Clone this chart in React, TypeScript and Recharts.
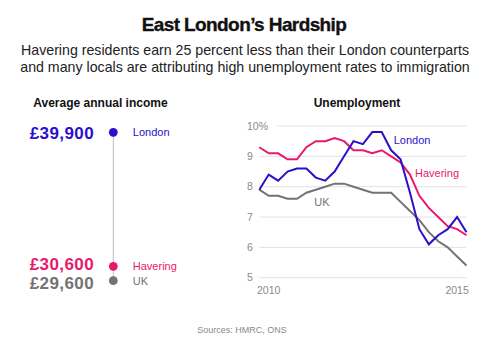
import React from "react";
import { LineChart, Line, XAxis, YAxis, CartesianGrid, ScatterChart, Scatter } from "recharts";

const FONT = "'Liberation Sans', Arial, Helvetica, sans-serif";

// Unemployment (quarterly, %)
const quarters = [
  "2009 Q4", "2010 Q1", "2010 Q2", "2010 Q3", "2010 Q4", "2011 Q1", "2011 Q2", "2011 Q3",
  "2011 Q4", "2012 Q1", "2012 Q2", "2012 Q3", "2012 Q4", "2013 Q1", "2013 Q2", "2013 Q3",
  "2013 Q4", "2014 Q1", "2014 Q2", "2014 Q3", "2014 Q4", "2015 Q1", "2015 Q2",
];
const londonRate = [7.9, 8.4, 8.2, 8.5, 8.6, 8.6, 8.3, 8.2, 8.5, 9.0, 9.5, 9.4, 9.8, 9.8, 9.2, 8.9, 7.8, 6.6, 6.1, 6.4, 6.6, 7.0, 6.5];
const haveringRate = [9.3, 9.1, 9.1, 8.9, 8.9, 9.3, 9.5, 9.5, 9.6, 9.5, 9.2, 9.2, 9.1, 9.2, 9.0, 8.8, 8.4, 7.7, 7.3, 7.0, 6.7, 6.6, 6.4];
const ukRate = [7.9, 7.7, 7.7, 7.6, 7.6, 7.8, 7.9, 8.0, 8.1, 8.1, 8.0, 7.9, 7.8, 7.8, 7.8, 7.5, 7.2, 6.9, 6.5, 6.2, 6.0, 5.7, 5.4];
const yTicks = [5, 6, 7, 8, 9, 10];
const xTickQuarters = ["2010 Q1", "2015 Q1"];

// Average annual income
const incomeRegions = ["London", "Havering", "UK"];
const incomeValues = [39900, 30600, 29600];
const incomeLabels = ["£39,900", "£30,600", "£29,600"];

const COLORS: Record<string, string> = {
  London: "#2a10cc",
  Havering: "#e8196c",
  UK: "#737373",
};

const unemploymentData = quarters.map((q, i) => ({
  quarter: q,
  London: londonRate[i],
  Havering: haveringRate[i],
  UK: ukRate[i],
}));

const incomeData = incomeRegions.map((r, i) => ({
  region: r,
  income: incomeValues[i],
  label: incomeLabels[i],
  pos: 1,
}));

const valueDy = [6.4, 4, 8];
const nameDy = [3.8, 3.4, 4.3];

const IncomeShape = (p: any) => {
  const i = incomeRegions.indexOf(p.payload.region);
  const c = COLORS[p.payload.region];
  return (
    <g>
      <circle cx={p.cx} cy={p.cy} r={4.4} fill={c} />
      <text x={p.cx - 19.3} y={p.cy + valueDy[i]} textAnchor="end" fill={c} fontSize={17} fontWeight="bold" letterSpacing={0.4} fontFamily={FONT}>
        {p.payload.label}
      </text>
      <text x={p.cx + 19.5} y={p.cy + nameDy[i]} textAnchor="start" fill={c} fontSize={11} fontFamily={FONT}>
        {p.payload.region}
      </text>
    </g>
  );
};

const YTick = (p: any) => (
  <text x={17} y={p.y} dy="0.35em" textAnchor="start" fill="#8a8a8a" fontSize={10.5} fontFamily={FONT}>
    {p.payload.value === 10 ? "10%" : p.payload.value}
  </text>
);

const gridLine = (p: any) => {
  const top = Math.abs(p.y1 - p.y) < 0.5;
  return <line key={p.key} x1={top ? p.x1 + 17 : p.x1} x2={p.x2} y1={p.y1} y2={p.y2} stroke="#e3e3e3" strokeWidth={1} />;
};

const makeLabelDot = (name: string, idx: number, dx: number, dy: number) => (p: any) => {
  if (p.index !== idx) return <g key={p.key} />;
  return (
    <text key={p.key} x={p.cx + dx} y={p.cy + dy} fill={COLORS[name]} fontSize={11} fontFamily={FONT}>
      {name}
    </text>
  );
};

export default function App() {
  return (
    <div style={{ position: "absolute", left: 0, top: 0, width: 488, height: 340, background: "#fff", fontFamily: FONT }}>
      <svg width={488} height={340} style={{ position: "absolute", left: 0, top: 0 }}>
        <text x={244} y={31} textAnchor="middle" fontSize={19} fontWeight="bold" letterSpacing={-0.6} fill="#111" stroke="#111" strokeWidth={0.35} fontFamily={FONT}>
          East London’s Hardship
        </text>
        <text x={245} y={55} textAnchor="middle" fontSize={14.2} fill="#222" fontFamily={FONT}>
          Havering residents earn 25 percent less than their London counterparts
        </text>
        <text x={245} y={71.5} textAnchor="middle" fontSize={14.2} fill="#222" fontFamily={FONT}>
          and many locals are attributing high unemployment rates to immigration
        </text>
        <text x={33.3} y={107.3} textAnchor="start" fontSize={12} fontWeight="bold" fill="#111" fontFamily={FONT}>
          Average annual income
        </text>
        <text x={357} y={107.3} textAnchor="middle" fontSize={12} fontWeight="bold" fill="#111" fontFamily={FONT}>
          Unemployment
        </text>
        <text x={242} y={333} textAnchor="middle" fontSize={9} fill="#8a8a8a" fontFamily={FONT}>
          Sources: HMRC, ONS
        </text>
      </svg>

      <div style={{ position: "absolute", left: 0, top: 90 }}>
        <ScatterChart width={230} height={220} margin={{ top: 42.3, bottom: 29.3, left: 13.3, right: 16.7 }}>
          <XAxis type="number" dataKey="pos" domain={[0, 2]} hide />
          <YAxis type="number" dataKey="income" domain={["dataMin", "dataMax"]} hide />
          <Scatter
            data={incomeData}
            isAnimationActive={false}
            line={{ stroke: "#bdbdbd", strokeWidth: 1 }}
            lineType="joint"
            shape={IncomeShape}
          />
        </ScatterChart>
      </div>

      <div style={{ position: "absolute", left: 230, top: 90 }}>
        <LineChart width={258} height={220} data={unemploymentData} margin={{ top: 36, right: 21.5, bottom: 2.3, left: 9.3 }}>
          <CartesianGrid vertical={false} horizontal={gridLine} />
          <XAxis
            dataKey="quarter"
            ticks={xTickQuarters}
            tickFormatter={(q: string) => q.slice(0, 4)}
            tickLine={false}
            axisLine={false}
            height={30}
            tickMargin={3}
            interval={0}
            tick={{ fill: "#8a8a8a", fontSize: 10.5, fontFamily: FONT }}
          />
          <YAxis
            domain={[5, 10]}
            ticks={yTicks}
            width={20}
            tickLine={false}
            axisLine={false}
            tick={YTick}
            interval={0}
          />
          <Line dataKey="UK" stroke={COLORS.UK} strokeWidth={2} isAnimationActive={false} dot={makeLabelDot("UK", 6, -1.5, 16)} activeDot={false} />
          <Line dataKey="Havering" stroke={COLORS.Havering} strokeWidth={2} isAnimationActive={false} dot={makeLabelDot("Havering", 16, 5, 2)} activeDot={false} />
          <Line dataKey="London" stroke={COLORS.London} strokeWidth={2} isAnimationActive={false} dot={makeLabelDot("London", 13, 12, 12)} activeDot={false} />
        </LineChart>
      </div>
    </div>
  );
}
